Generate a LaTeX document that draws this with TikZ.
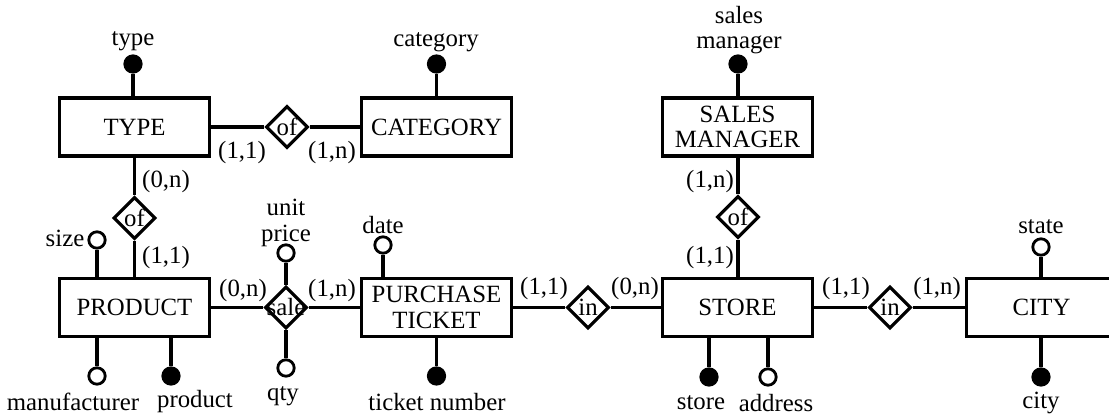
\documentclass[tikz,border=0pt]{standalone}
\usepackage{fontspec}
\setmainfont{Liberation Serif}
\usetikzlibrary{shapes.geometric}
\newcommand{\erfont}{\fontsize{12.4}{12.8}\selectfont}
\tikzset{
  txt/.style={font=\erfont, inner sep=0pt, align=center},
  entity/.style={draw, line width=1.6pt, minimum width=75pt, minimum height=29pt, inner sep=0pt, align=center, font=\erfont},
  rel/.style={draw, diamond, line width=1.6pt, minimum width=21pt, minimum height=21pt, inner sep=0pt, label={[txt]center:#1}},
  key/.style={circle, draw, fill=black, line width=1.4pt, minimum size=8.2pt, inner sep=0pt},
  attr/.style={key, fill=white},
  link/.style={line width=1.6pt}
}
\begin{document}
\begin{tikzpicture}[x=0.5pt, y=-0.5pt]
  \clip (0, 0) rectangle (1109, 417);
  \node [entity] (typ) at (134.5, 127) {TYPE};
  \node [entity] (cat) at (436.5, 127) {CATEGORY};
  \node [entity] (mgr) at (737.5, 127) {SALES\\MANAGER};
  \node [entity] (prod) at (134.5, 307.5) {PRODUCT};
  \node [entity] (tick) at (436.5, 307.5) {PURCHASE\\TICKET};
  \node [entity] (store) at (737.5, 307.5) {STORE};
  \node [entity] (city) at (1041.5, 307.5) {CITY};

  \node [rel=of] (of1) at (287, 127) {};
  \node [rel=of] (of2) at (134.5, 218) {};
  \node [rel=sale] (sale) at (286, 307.5) {};
  \node [rel=in] (in1) at (588, 307.5) {};
  \node [rel=of] (of3) at (738, 217) {};
  \node [rel=in] (in2) at (890, 307.5) {};

  \draw [link] (typ.east) -- (of1.west);
  \draw [link] (of1.east) -- (cat.west);
  \draw [link] (typ.south) -- (of2.north);
  \draw [link] (of2.south) -- (prod.north);
  \draw [link] (prod.east) -- (sale.west);
  \draw [link] (sale.east) -- (tick.west);
  \draw [link] (tick.east) -- (in1.west);
  \draw [link] (in1.east) -- (store.west);
  \draw [link] (of3.north) -- (of3 |- mgr.south);
  \draw [link] (of3.south) -- (of3 |- store.north);
  \draw [link] (store.east) -- (in2.west);
  \draw [link] (in2.east) -- (city.west);

  \node [key] (ktype) at (133, 64) {};
  \node [key] (kcat) at (436.5, 64) {};
  \node [key] (kmgr) at (738, 64) {};
  \node [attr] (asize) at (97, 240) {};
  \node [attr] (amanu) at (97, 376) {};
  \node [key] (kprod) at (171, 376) {};
  \node [attr] (aprice) at (286, 253) {};
  \node [attr] (aqty) at (286, 368) {};
  \node [attr] (adate) at (383, 245) {};
  \node [key] (ktick) at (436.5, 376) {};
  \node [key] (kstore) at (709, 377) {};
  \node [attr] (aaddr) at (768, 377) {};
  \node [attr] (astate) at (1041, 247) {};
  \node [key] (kcity) at (1041, 377) {};

  \draw [link] (ktype) -- (ktype |- typ.north);
  \draw [link] (kcat) -- (kcat |- cat.north);
  \draw [link] (kmgr) -- (kmgr |- mgr.north);
  \draw [link] (asize) -- (asize |- prod.north);
  \draw [link] (amanu) -- (amanu |- prod.south);
  \draw [link] (kprod) -- (kprod |- prod.south);
  \draw [link] (aprice) -- (sale.north);
  \draw [link] (aqty) -- (sale.south);
  \draw [link] (adate) -- (adate |- tick.north);
  \draw [link] (ktick) -- (ktick |- tick.south);
  \draw [link] (kstore) -- (kstore |- store.south);
  \draw [link] (aaddr) -- (aaddr |- store.south);
  \draw [link] (astate) -- (astate |- city.north);
  \draw [link] (kcity) -- (kcity |- city.south);

  \node [txt] (ltype) at (133, 41) {type};
  \node [txt] (lcat) at (436, 42) {category};
  \node [txt] (lmgr) at (739, 30) {sales\\manager};
  \node [txt] (lsize) at (65, 238) {size};
  \node [txt] (lprice) at (286, 223) {unit\\price};
  \node [txt] (lmanu) at (73, 402) {manufacturer};
  \node [txt] (lprod) at (195, 402) {product};
  \node [txt] (lqty) at (283, 396) {qty};
  \node [txt] (ldate) at (383, 225) {date};
  \node [txt] (ltick) at (437, 402) {ticket number};
  \node [txt] (lstore) at (701, 403) {store};
  \node [txt] (laddr) at (776, 403) {address};
  \node [txt] (lstate) at (1041, 227) {state};
  \node [txt] (lcity) at (1041, 403) {city};

  \node [txt] (c1) at (242, 153) {(1,1)};
  \node [txt] (c2) at (332, 153) {(1,n)};
  \node [txt] (c3) at (166, 182) {(0,n)};
  \node [txt] (c4) at (166, 258) {(1,1)};
  \node [txt] (c5) at (243, 291) {(0,n)};
  \node [txt] (c6) at (332, 291) {(1,n)};
  \node [txt] (c7) at (544, 289) {(1,1)};
  \node [txt] (c8) at (635, 289) {(0,n)};
  \node [txt] (c9) at (710, 182) {(1,n)};
  \node [txt] (c10) at (710, 258) {(1,1)};
  \node [txt] (c11) at (846, 289) {(1,1)};
  \node [txt] (c12) at (937, 289) {(1,n)};
\end{tikzpicture}
\end{document}
